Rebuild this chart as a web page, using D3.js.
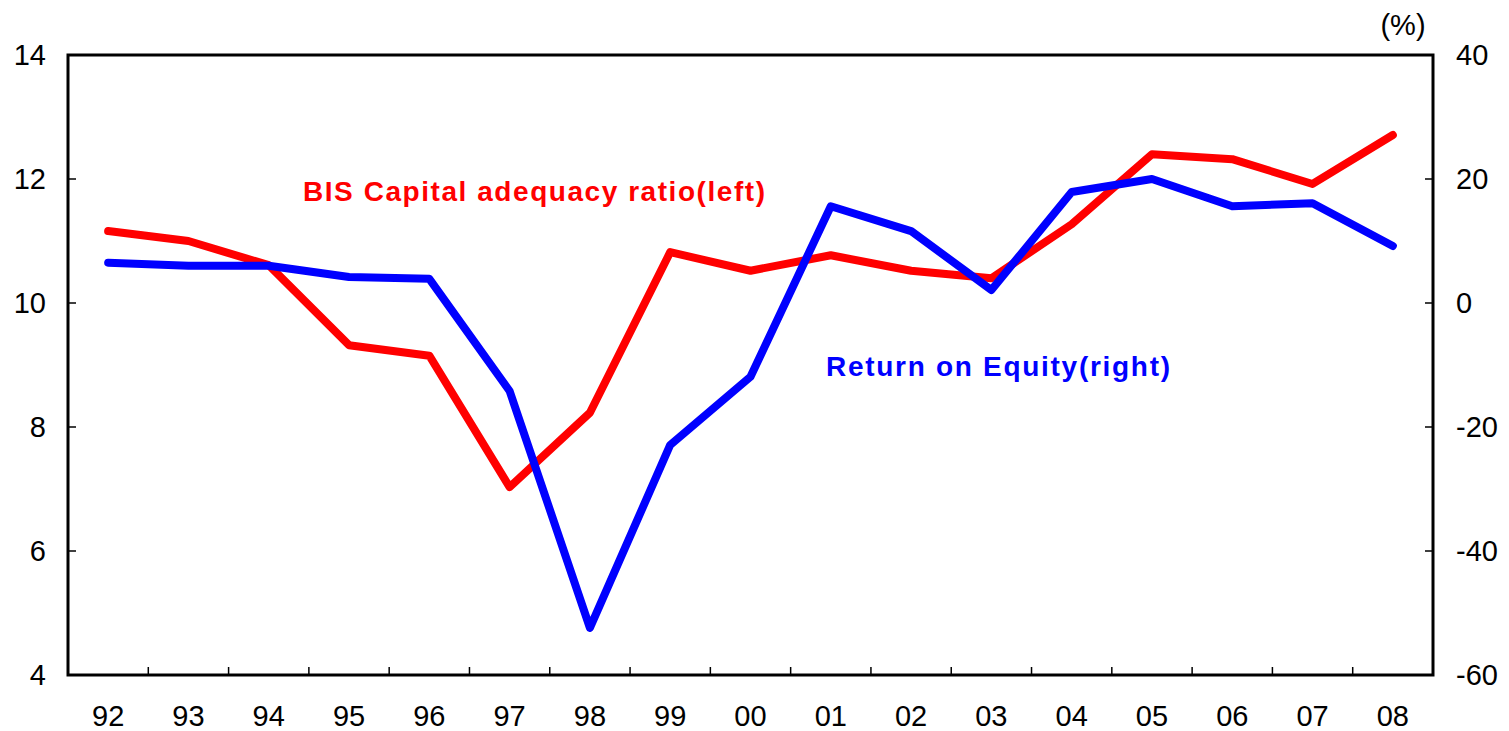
<!DOCTYPE html>
<html>
<head>
<meta charset="utf-8">
<script src="https://cdn.jsdelivr.net/npm/d3@7"></script>
<style>
  body { margin: 0; background: #fff; }
  svg text { font-family: "Liberation Sans", Arial, sans-serif; }
</style>
</head>
<body>
<div id="chart"></div>
<script>
const years = ["92","93","94","95","96","97","98","99","00","01","02","03","04","05","06","07","08"];
const bisRatio = [11.16, 11.0, 10.61, 9.32, 9.15, 7.03, 8.23, 10.82, 10.52, 10.77, 10.52, 10.4, 11.27, 12.4, 12.32, 11.92, 12.71];
const roe = [6.5, 6.0, 6.0, 4.2, 3.9, -14.2, -52.4, -22.9, -11.9, 15.6, 11.6, 2.1, 17.9, 20.0, 15.6, 16.1, 9.2];
const leftTicks = [4, 6, 8, 10, 12, 14];
const rightTicks = [-60, -40, -20, 0, 20, 40];

const W = 1509, H = 731;
const margin = { top: 55, right: 76, bottom: 56, left: 68 };
const width = W - margin.left - margin.right,
      height = H - margin.top - margin.bottom;

const svg = d3.select("#chart").append("svg")
    .attr("width", W)
    .attr("height", H);

const g = svg.append("g")
    .attr("transform", `translate(${margin.left},${margin.top})`);

const x = d3.scaleBand().domain(years).range([0, width]);
const yL = d3.scaleLinear().domain([4, 14]).range([height, 0]);
const yR = d3.scaleLinear().domain([-60, 40]).range([height, 0]);

// frame
g.append("rect")
    .attr("width", width)
    .attr("height", height)
    .attr("fill", "none")
    .attr("stroke", "#000")
    .attr("stroke-width", 3);

// x ticks between categories, pointing inward
g.selectAll(".xtick")
    .data(years.slice(1))
    .join("line")
    .attr("x1", d => x(d))
    .attr("x2", d => x(d))
    .attr("y1", height)
    .attr("y2", height - 8)
    .attr("stroke", "#000")
    .attr("stroke-width", 1.5);

g.selectAll(".xlab")
    .data(years)
    .join("text")
    .attr("x", d => x(d) + x.bandwidth() / 2)
    .attr("y", height + 51)
    .attr("text-anchor", "middle")
    .attr("font-size", 29)
    .text(d => d);

// left axis
g.selectAll(".ltick")
    .data(leftTicks)
    .join("line")
    .attr("x1", 0).attr("x2", 8)
    .attr("y1", d => yL(d)).attr("y2", d => yL(d))
    .attr("stroke", "#000")
    .attr("stroke-width", 1.5);

g.selectAll(".llab")
    .data(leftTicks)
    .join("text")
    .attr("x", -22)
    .attr("y", d => yL(d))
    .attr("dy", "0.36em")
    .attr("text-anchor", "end")
    .attr("font-size", 29)
    .text(d => d);

// right axis
g.selectAll(".rtick")
    .data(rightTicks)
    .join("line")
    .attr("x1", width - 8).attr("x2", width)
    .attr("y1", d => yR(d)).attr("y2", d => yR(d))
    .attr("stroke", "#000")
    .attr("stroke-width", 1.5);

g.selectAll(".rlab")
    .data(rightTicks)
    .join("text")
    .attr("x", width + 23)
    .attr("y", d => yR(d))
    .attr("dy", "0.36em")
    .attr("text-anchor", "start")
    .attr("font-size", 29)
    .text(d => d);

svg.append("text")
    .attr("x", 1403)
    .attr("y", 35)
    .attr("text-anchor", "middle")
    .attr("font-size", 29)
    .text("(%)");

// lines
const lineL = d3.line()
    .x((d, i) => x(years[i]) + x.bandwidth() / 2)
    .y(d => yL(d));
const lineR = d3.line()
    .x((d, i) => x(years[i]) + x.bandwidth() / 2)
    .y(d => yR(d));

g.append("path")
    .datum(bisRatio)
    .attr("d", lineL)
    .attr("fill", "none")
    .attr("stroke", "#ff0000")
    .attr("stroke-width", 8)
    .attr("stroke-linejoin", "round")
    .attr("stroke-linecap", "round");

g.append("path")
    .datum(roe)
    .attr("d", lineR)
    .attr("fill", "none")
    .attr("stroke", "#0000ff")
    .attr("stroke-width", 8)
    .attr("stroke-linejoin", "round")
    .attr("stroke-linecap", "round");

// labels
svg.append("text")
    .attr("x", 303)
    .attr("y", 201)
    .attr("font-size", 28)
    .attr("font-weight", "bold")
    .attr("fill", "#ff0000")
    .attr("textLength", 462)
    .text("BIS Capital adequacy ratio(left)");

svg.append("text")
    .attr("x", 826)
    .attr("y", 376)
    .attr("font-size", 28)
    .attr("font-weight", "bold")
    .attr("fill", "#0000ff")
    .attr("textLength", 344)
    .text("Return on Equity(right)");
</script>
</body>
</html>
